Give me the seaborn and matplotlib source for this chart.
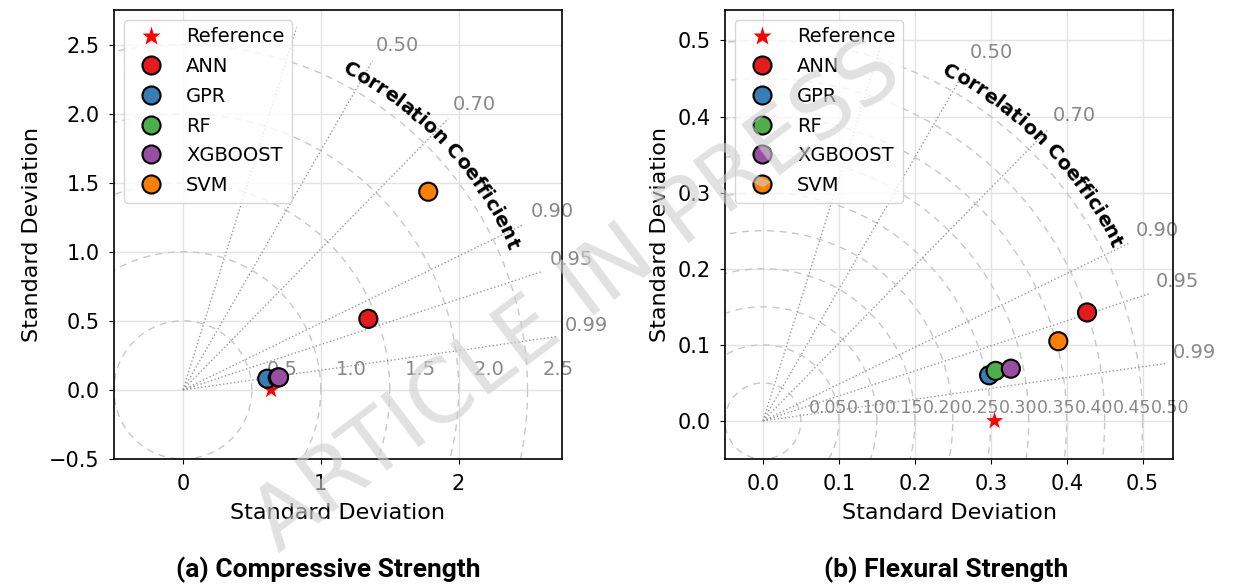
import numpy as np
import pandas as pd
import matplotlib
matplotlib.use("Agg")
import matplotlib.pyplot as plt
import seaborn as sns
from matplotlib.lines import Line2D
from matplotlib.textpath import TextToPath
from matplotlib.font_manager import FontProperties

# ---------------- data ----------------
models = ["ANN", "GPR", "RF", "XGBOOST", "SVM"]
colors = ["#e41a1c", "#377eb8", "#4daf4a", "#984ea3", "#ff7f00"]

# (a) Compressive strength
cs_ref_std = 0.64
cs_std = [1.440, 0.617, 0.694, 0.703, 2.286]
cs_corr = [0.934, 0.9913, 0.9916, 0.9916, 0.7786]

# (b) Flexural strength
fs_ref_std = 0.305
fs_std = [0.450, 0.3038, 0.3134, 0.3336, 0.4028]
fs_corr = [0.9485, 0.9803, 0.9777, 0.9786, 0.9656]

corr_lines = [0.3, 0.5, 0.7, 0.9, 0.95, 0.99]
corr_labels = [0.5, 0.7, 0.9, 0.95, 0.99]
cs_rings = [0.5, 1.0, 1.5, 2.0, 2.5]
fs_rings = [0.05, 0.10, 0.15, 0.20, 0.25, 0.30, 0.35, 0.40, 0.45, 0.50]
cs_xticks = [0, 1, 2]
cs_yticks = [-0.5, 0.0, 0.5, 1.0, 1.5, 2.0, 2.5]
fs_ticks = [0.0, 0.1, 0.2, 0.3, 0.4, 0.5]
captions = ["(a) Compressive Strength", "(b) Flexural Strength"]

DPI = 100
fig = plt.figure(figsize=(12.34, 5.84), dpi=DPI)
ax1 = fig.add_axes([114 / 1234, 1 - 459 / 584, 448 / 1234, 449 / 584])
ax2 = fig.add_axes([725 / 1234, 1 - 459 / 584, 448 / 1234, 449 / 584])

GRAY = "#888888"


def curved_text(ax, text, r_base, theta_c_deg, ppu, size):
    fp = FontProperties(family="DejaVu Sans", weight="bold", size=size)
    ttp = TextToPath()

    def w(s):
        if not s:
            return 0.0
        return ttp.get_text_width_height_descent(s, fp, ismath=False)[0] * DPI / 72

    total = w(text)
    R_px = r_base * ppu
    for i, ch in enumerate(text):
        if ch == " ":
            continue
        c = (w(text[:i]) + w(text[: i + 1])) / 2
        d = c - total / 2
        th = np.radians(theta_c_deg) - d / R_px
        ax.text(r_base * np.cos(th), r_base * np.sin(th), ch,
                rotation=np.degrees(th) - 90, rotation_mode="anchor",
                ha="center", va="baseline", fontproperties=fp, zorder=4)


def panel(ax, ref_std, stds, corrs, rings, ring_fmt, ring_dx, ring_y, ring_fs,
          lims, xticks, yticks, ray_len, lab_r, title_r, title_th):
    ax.set_xlim(*lims)
    ax.set_ylim(*lims)
    ax.set_xticks(xticks)
    ax.set_yticks(yticks)
    ax.grid(True, color="#e3e3e3", lw=1.0, zorder=0)
    ax.set_axisbelow(True)

    t = np.linspace(0, 2 * np.pi, 400)
    for r in rings:
        ax.plot(r * np.cos(t), r * np.sin(t), ls=(0, (5, 4)), color="#c8c8c8", lw=1.0, zorder=1)
        ax.text(r + ring_dx, ring_y, ring_fmt.format(r), color=GRAY, fontsize=ring_fs,
                ha="center", va="center", zorder=2)
    for c in corr_lines:
        th = np.arccos(c)
        ax.plot([0, ray_len * np.cos(th)], [0, ray_len * np.sin(th)], ls=":", color="#999999",
                lw=1.0, zorder=1)
    for c in corr_labels:
        th = np.arccos(c)
        ax.text(lab_r * np.cos(th), lab_r * np.sin(th), f"{c:.2f}", color=GRAY, fontsize=14,
                ha="left", va="bottom", zorder=2)

    df = pd.DataFrame({
        "model": models,
        "x": np.array(stds) * np.array(corrs),
        "y": np.array(stds) * np.sqrt(1 - np.array(corrs) ** 2),
    })
    sns.scatterplot(x=[ref_std], y=[0.0], marker="*", color="red", s=170, edgecolor="none",
                    ax=ax, zorder=5, legend=False)
    sns.scatterplot(data=df, x="x", y="y", hue="model", hue_order=models, palette=colors,
                    s=170, edgecolor="black", linewidth=1.5, ax=ax, zorder=6, legend=False)

    ppu = ax.transData.transform([[1, 0]])[0][0] - ax.transData.transform([[0, 0]])[0][0]
    curved_text(ax, "Correlation Coefficient", title_r, title_th, ppu, 14)

    handles = [Line2D([], [], marker="*", color="red", ls="", ms=14, mec="none")]
    for c in colors:
        handles.append(Line2D([], [], marker="o", color=c, ls="", ms=13, mec="black", mew=1.5))
    leg = ax.legend(handles, ["Reference"] + models, loc="upper left", fontsize=14,
                    framealpha=0.8, edgecolor="#cccccc", labelspacing=0.55)
    leg.set_zorder(10)

    ax.set_xlabel("Standard Deviation", fontsize=16, labelpad=7)
    ax.set_ylabel("Standard Deviation", fontsize=16, labelpad=5)
    ax.tick_params(labelsize=15, pad=7)
    for sp in ax.spines.values():
        sp.set_linewidth(1.2)


panel(ax1, cs_ref_std, cs_std, cs_corr, cs_rings, "{:.1f}", 0.22, 0.148, 14,
      (-0.5, 2.75), cs_xticks, cs_yticks, 2.75, 2.8, 2.57, 43.3)
panel(ax2, fs_ref_std, fs_std, fs_corr, fs_rings, "{:.2f}", 0.036, 0.0175, 12.5,
      (-0.05, 0.54), fs_ticks, fs_ticks, 0.535, 0.545, 0.513, 44.5)

cap_font = ["Liberation Sans Narrow", "Roboto", "DejaVu Sans"]
fig.text(0.266, 0.024, captions[0], fontsize=19, fontweight="bold", family=cap_font,
         ha="center", va="center")
fig.text(0.767, 0.024, captions[1], fontsize=19, fontweight="bold", family=cap_font,
         ha="center", va="center")

fig.text(0.468, 0.49, "ARTICLE IN PRESS", fontsize=63, color="#cfcfcf", alpha=0.62,
         rotation=37, ha="center", va="center", rotation_mode="anchor", zorder=20)

fig.savefig("out.png", dpi=DPI)
